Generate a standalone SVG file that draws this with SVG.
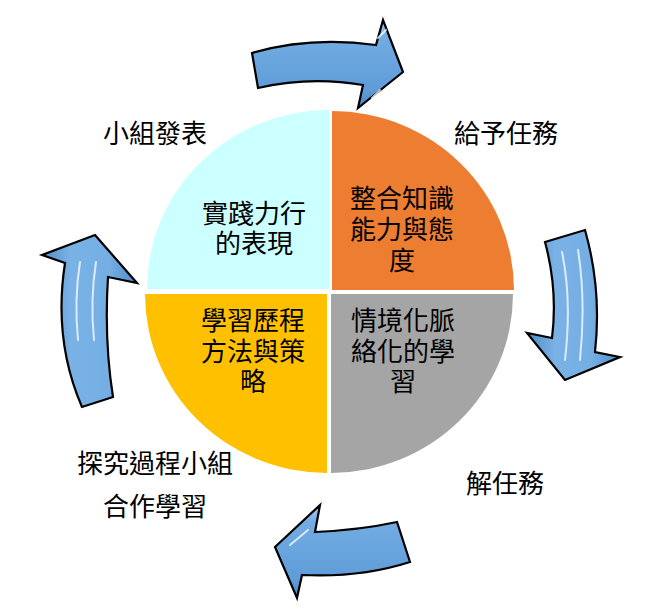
<svg xmlns="http://www.w3.org/2000/svg" width="653" height="611" viewBox="0 0 653 611">
<defs>
<style>
text{font-family:"Liberation Sans","Noto Sans CJK TC","Noto Sans CJK SC",sans-serif;font-size:26px;fill:#000;text-anchor:middle}
.arrow{stroke:#000;stroke-width:2.2;stroke-linejoin:miter}
.hl{fill:none;stroke:#fff;stroke-width:2;stroke-linecap:round;opacity:0.75}
</style>
<linearGradient id="gh" x1="0" y1="0" x2="0" y2="1">
<stop offset="0" stop-color="#a9cff2"/>
<stop offset="0.18" stop-color="#72ace2"/>
<stop offset="0.8" stop-color="#5f9cd8"/>
<stop offset="1" stop-color="#4a86c4"/>
</linearGradient>
<linearGradient id="gv" x1="0" y1="0" x2="1" y2="0">
<stop offset="0" stop-color="#4f8cc9"/>
<stop offset="0.3" stop-color="#7ab2e6"/>
<stop offset="0.7" stop-color="#74aee3"/>
<stop offset="1" stop-color="#4f8cc9"/>
</linearGradient>
</defs>
<rect width="653" height="611" fill="#fff"/>
<g id="pie">
<path id="q-cyan" d="M329,289 L147,289 A182,179 0 0 1 329,110 Z" fill="#ccffff"/>
<path id="q-orange" d="M332,290 L332,111 A182,179 0 0 1 514,290 Z" fill="#ed7d31"/>
<path id="q-gray" d="M331,294 L513,294 A182,179 0 0 1 331,473 Z" fill="#a5a5a5"/>
<path id="q-gold" d="M327,294 L327,473 A182,179 0 0 1 145,294 Z" fill="#ffc000"/>
</g>
<g id="connectors">
<g id="arrow-top">
<path class="arrow" fill="url(#gh)" d="M252,53 Q310,36 376,45 L383,20 L403,72 L358,108 L363,85 Q310,76 258,88 Z"/>
<path class="hl" d="M378,38 L386,30"/>
<path class="hl" d="M380,90 L372,98"/>
</g>
<g id="arrow-right">
<path class="arrow" fill="url(#gv)" d="M545,242 L585,230 Q602,290 595,352 L620,357 L565,380 L527,333 L552,338 Q558,290 545,242 Z"/>
<path class="hl" d="M562,252 Q572,300 565,360"/>
<path class="hl" d="M578,250 Q586,300 580,360"/>
</g>
<g id="arrow-bottom">
<path class="arrow" fill="url(#gh)" d="M275,547 L320,505 L315,532 Q360,530 397,522 L410,562 Q360,578 302,575 L297,598 Z"/>
<path class="hl" d="M290,545 L308,530"/>
</g>
<g id="arrow-left">
<path class="arrow" fill="url(#gv)" d="M95,235 L137,283 L108,277 Q104,340 113,397 L82,407 Q53,340 65,263 L42,255 Z"/>
<path class="hl" d="M80,262 Q74,300 78,340"/>
<path class="hl" d="M96,262 Q90,300 94,340"/>
</g>
</g>
<g id="n-cyan">
<text x="254" y="223">實踐力行<tspan x="254" y="253">的表現</tspan></text>
</g>
<g id="n-orange">
<text x="402" y="208">整合知識<tspan x="402" y="239">能力與態</tspan><tspan x="402" y="270">度</tspan></text>
</g>
<g id="n-gold">
<text x="253" y="330">學習歷程<tspan x="253" y="361">方法與策</tspan><tspan x="253" y="391">略</tspan></text>
</g>
<g id="n-gray">
<text x="403" y="330">情境化脈<tspan x="403" y="361">絡化的學</tspan><tspan x="403" y="391">習</tspan></text>
</g>
<g id="labels">
<text id="l-present" x="155" y="143">小組發表</text>
<text id="l-assign" x="506" y="143">給予任務</text>
<text id="l-solve" x="505" y="493">解任務</text>
<text id="l-explore" x="155" y="473">探究過程小組<tspan x="155" y="516">合作學習</tspan></text>
</g>
</svg>
